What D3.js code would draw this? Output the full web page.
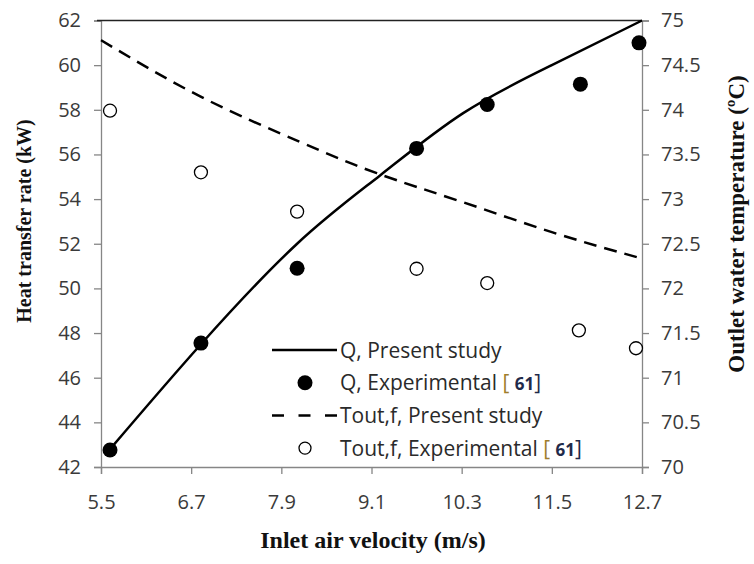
<!DOCTYPE html>
<html>
<head>
<meta charset="utf-8">
<script src="https://cdn.jsdelivr.net/npm/d3@7"></script>
<style>
body { margin: 0; background: #fff; }
svg { display: block; }
</style>
</head>
<body>
<script>
var width = 754,
    height = 564;

var margin = {top: 20.5, right: 112, bottom: 97, left: 101};

// x ticks (m/s)
var xTicks = [5.5, 6.7, 7.9, 9.1, 10.3, 11.5, 12.7];
var qTicks = [42, 44, 46, 48, 50, 52, 54, 56, 58, 60, 62];
var tTicks = [70, 70.5, 71, 71.5, 72, 72.5, 73, 73.5, 74, 74.5, 75];

// Q, present study (solid curve)
var qModelX = [5.62, 6.83, 8.11, 9.21, 10.32, 11.5, 12.7];
var qModelY = [42.8, 47.5, 52.0, 55.05, 57.85, 60.0, 62.0];

// Q, experimental [61]
var qExpX = [5.62, 6.83, 8.11, 9.70, 10.64, 11.88, 12.66];
var qExpY = [42.76, 47.55, 50.9, 56.27, 58.24, 59.15, 61.0];

// Tout,f present study (dashed)
var tModelX = [5.5, 6.82, 8.15, 9.17, 10.3, 11.5, 12.63];
var tModelY = [74.78, 74.15, 73.64, 73.29, 72.97, 72.63, 72.35];

// Tout,f experimental [61]
var tExpX = [5.62, 6.83, 8.11, 9.70, 10.64, 11.86, 12.62];
var tExpY = [73.99, 73.30, 72.86, 72.22, 72.06, 71.53, 71.33];

var x0 = margin.left, x1 = width - margin.right,
    y0 = height - margin.bottom, y1 = margin.top;

var xScale = d3.scaleLinear().domain([5.5, 12.7]).range([x0, x1]);
var qScale = d3.scaleLinear().domain([42, 62]).range([y0, y1]);
var tScale = d3.scaleLinear().domain([70, 75]).range([y0, y1]);

var svg = d3.select("body").append("svg")
    .attr("width", width)
    .attr("height", height);

var tickFont = "'Open Sans', sans-serif";
var axisColor = "#868686";

// axes
var xAxis = svg.append("g")
    .attr("transform", "translate(0," + y0 + ")")
    .call(d3.axisBottom(xScale).tickValues(xTicks).tickSize(7).tickPadding(21)
        .tickFormat(d3.format(".1f")));

var leftAxis = svg.append("g")
    .attr("transform", "translate(" + x0 + ",0)")
    .call(d3.axisLeft(qScale).tickValues(qTicks).tickSize(7).tickPadding(13)
        .tickFormat(d3.format("d")));

var rightAxis = svg.append("g")
    .attr("transform", "translate(" + x1 + ",0)")
    .call(d3.axisRight(tScale).tickValues(tTicks).tickSize(7).tickPadding(12)
        .tickFormat(function(d) { return d % 1 === 0 ? d3.format("d")(d) : d3.format(".1f")(d); }));

[xAxis, leftAxis, rightAxis].forEach(function(a) {
    a.select(".domain").attr("stroke", axisColor).attr("stroke-width", 1.3);
    a.selectAll(".tick line").attr("stroke", axisColor).attr("stroke-width", 1.3);
    a.selectAll(".tick text")
        .attr("fill", "#3a3a3a")
        .style("font-family", tickFont)
        .style("font-size", "20px");
});

// top border of plot area
svg.append("line")
    .attr("x1", x0 - 4).attr("x2", x1)
    .attr("y1", y1).attr("y2", y1)
    .attr("stroke", "#222")
    .attr("stroke-width", 1.5);

// Q model line
var qLine = d3.line()
    .x(function(d) { return xScale(d[0]); })
    .y(function(d) { return qScale(d[1]); })
    .curve(d3.curveNatural);

svg.append("path")
    .datum(d3.zip(qModelX, qModelY))
    .attr("d", qLine)
    .attr("fill", "none")
    .attr("stroke", "#000")
    .attr("stroke-width", 2.5);

// Tout model line
var tLine = d3.line()
    .x(function(d) { return xScale(d[0]); })
    .y(function(d) { return tScale(d[1]); })
    .curve(d3.curveNatural);

svg.append("path")
    .datum(d3.zip(tModelX, tModelY))
    .attr("d", tLine)
    .attr("fill", "none")
    .attr("stroke", "#000")
    .attr("stroke-width", 2.5)
    .attr("stroke-dasharray", "13,8");

// experimental points
svg.selectAll("circle.qexp")
    .data(d3.zip(qExpX, qExpY))
    .enter()
    .append("circle")
    .attr("class", "qexp")
    .attr("cx", function(d) { return xScale(d[0]); })
    .attr("cy", function(d) { return qScale(d[1]); })
    .attr("r", 7.5)
    .attr("fill", "#000");

svg.selectAll("circle.texp")
    .data(d3.zip(tExpX, tExpY))
    .enter()
    .append("circle")
    .attr("class", "texp")
    .attr("cx", function(d) { return xScale(d[0]); })
    .attr("cy", function(d) { return tScale(d[1]); })
    .attr("r", 6.5)
    .attr("fill", "#fff")
    .attr("stroke", "#000")
    .attr("stroke-width", 1.3);

// legend
var legendItems = [
    {label: "Q, Present study", type: "solid"},
    {label: "Q, Experimental ", ref: true, type: "filled"},
    {label: "Tout,f, Present study", type: "dashed"},
    {label: "Tout,f, Experimental ", ref: true, type: "open"}
];

var legend = svg.append("g").attr("transform", "translate(272,350)");

var rows = legend.selectAll("g")
    .data(legendItems)
    .enter()
    .append("g")
    .attr("transform", function(d, i) { return "translate(0," + (i * 32.7) + ")"; });

rows.filter(function(d) { return d.type === "solid" || d.type === "dashed"; })
    .append("line")
    .attr("x1", 0).attr("x2", 65)
    .attr("y1", 0).attr("y2", 0)
    .attr("stroke", "#000")
    .attr("stroke-width", 2.5)
    .attr("stroke-dasharray", function(d) { return d.type === "dashed" ? "12,14.5" : null; });

rows.filter(function(d) { return d.type === "filled"; })
    .append("circle")
    .attr("cx", 33).attr("cy", 0).attr("r", 7.5)
    .attr("fill", "#000");

rows.filter(function(d) { return d.type === "open"; })
    .append("circle")
    .attr("cx", 33).attr("cy", 0).attr("r", 6)
    .attr("fill", "#fff").attr("stroke", "#000").attr("stroke-width", 1.3);

var legendText = rows.append("text")
    .attr("x", 68)
    .attr("dy", "0.36em")
    .attr("fill", "#2a2a2a")
    .style("font-family", tickFont)
    .style("font-size", "21px")
    .text(function(d) { return d.label; });

legendText.filter(function(d) { return d.ref; })
    .append("tspan").attr("fill", "#a07d2c").text("[ ");
legendText.filter(function(d) { return d.ref; })
    .append("tspan").attr("fill", "#1f2a4a").style("font-weight", "bold")
    .style("font-size", "17px").text("61");
legendText.filter(function(d) { return d.ref; })
    .append("tspan").attr("fill", "#1f2a4a").text("]");

// axis titles
var titleFont = "'Liberation Serif', 'Times New Roman', serif";

svg.append("text")
    .attr("transform", "translate(31,221) rotate(-90)")
    .attr("text-anchor", "middle")
    .style("font-family", titleFont)
    .style("font-weight", "bold")
    .style("font-size", "20px")
    .attr("fill", "#111")
    .text("Heat transfer rate (kW)");

svg.append("text")
    .attr("transform", "translate(744,224) rotate(-90)")
    .attr("text-anchor", "middle")
    .style("font-family", titleFont)
    .style("font-weight", "bold")
    .style("font-size", "23px")
    .attr("fill", "#111")
    .text("Outlet water temperature (ºC)");

svg.append("text")
    .attr("x", 373)
    .attr("y", 548)
    .attr("text-anchor", "middle")
    .style("font-family", titleFont)
    .style("font-weight", "bold")
    .style("font-size", "24px")
    .attr("fill", "#111")
    .text("Inlet air velocity (m/s)");
</script>
</body>
</html>
